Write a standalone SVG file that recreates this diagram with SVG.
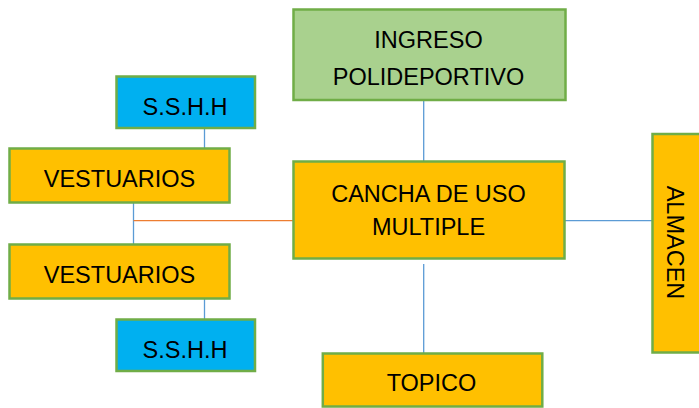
<svg xmlns="http://www.w3.org/2000/svg" width="699" height="408" viewBox="0 0 699 408">
<style>
.box{stroke:#70AD47;stroke-width:2.5}
.or{fill:#FFC000}
.bl{fill:#00B0F0}
.gr{fill:#A9D18E}
text{font-family:"Liberation Sans",Arial,sans-serif;font-size:23.5px;fill:#000;text-anchor:middle}
.c{stroke:#5B9BD5;stroke-width:1.3;fill:none}
.co{stroke:#ED7D31;stroke-width:1.3;fill:none}
</style>
<rect width="699" height="408" fill="#fff"/>
<g id="connectors">
<line class="c" x1="204.5" y1="128" x2="204.5" y2="149"/>
<line class="c" x1="133.5" y1="202" x2="133.5" y2="245"/>
<line class="co" x1="133.5" y1="220.7" x2="294" y2="220.7"/>
<line class="c" x1="204.5" y1="298" x2="204.5" y2="320"/>
<line class="c" x1="423.7" y1="100" x2="423.7" y2="166"/>
<line class="c" x1="423.7" y1="264" x2="423.7" y2="354"/>
<line class="c" x1="565" y1="220.7" x2="653" y2="220.7"/>
</g>
<g id="sshh1"><rect class="box bl" x="116.5" y="76.5" width="138.5" height="51.5"/><text x="185" y="115">S.S.H.H</text></g>
<g id="vestuarios1"><rect class="box or" x="9.5" y="148.5" width="220" height="54"/><text x="119.5" y="186.5">VESTUARIOS</text></g>
<g id="vestuarios2"><rect class="box or" x="9.5" y="244.5" width="220" height="54"/><text x="119.5" y="282.5">VESTUARIOS</text></g>
<g id="sshh2"><rect class="box bl" x="116.5" y="319.5" width="138.5" height="51.5"/><text x="185" y="358">S.S.H.H</text></g>
<g id="ingreso"><rect class="box gr" x="293.5" y="9.5" width="272" height="90.5"/><text x="428.5" y="48.3">INGRESO</text><text x="428.5" y="85">POLIDEPORTIVO</text></g>
<g id="cancha"><rect class="box or" x="293.5" y="161.5" width="271" height="97"/><text x="428.5" y="201.5">CANCHA DE USO</text><text x="428.5" y="235">MULTIPLE</text></g>
<g id="topico"><rect class="box or" x="322.8" y="353.5" width="219.5" height="53"/><text x="431.5" y="391">TOPICO</text></g>
<g id="almacen"><rect class="box or" x="652.5" y="134" width="50" height="218.5"/><text x="667" y="242.5" transform="rotate(90 667 242.5)">ALMACEN</text></g>
</svg>
